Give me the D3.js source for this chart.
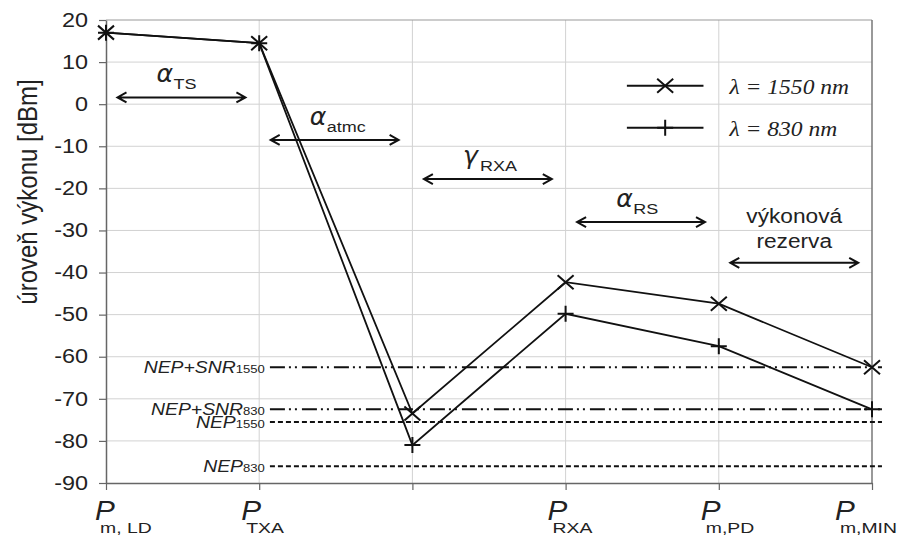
<!DOCTYPE html>
<html><head><meta charset="utf-8">
<script src="https://cdn.jsdelivr.net/npm/d3@7"></script>
<style>
html,body{margin:0;padding:0;background:#fff;}
svg{display:block;}
text{font-family:"Liberation Sans",Arial,sans-serif;fill:#222;}
</style></head>
<body>
<svg id="chart" width="898" height="536"></svg>
<script>
// ---- data ----
const categoryMain = ["P", "P", "", "P", "P", "P"];
const categorySub = ["m, LD", "TXA", "", "RXA", "m,PD", "m,MIN"];
const series1550 = [17, 14.5, -73.5, -42.3, -47.4, -62.5];
const series830 = [17, 14.5, -81, -49.8, -57.5, -72.5];
const yTicks = [20, 10, 0, -10, -20, -30, -40, -50, -60, -70, -80, -90];
const refNames = ["NEP+SNR", "NEP+SNR", "NEP", "NEP"];
const refSubs = ["1550", "830", "1550", "830"];
const refValues = [-62.5, -72.5, -75.5, -86];
const refKinds = ["dashdotdot", "dashdotdot", "dash", "dash"];
const legendLabels = ["λ = 1550 nm", "λ = 830 nm"];
const annSymbols = ["α", "α", "γ", "α", ""];
const annSubs = ["TS", "atmc", "RXA", "RS", ""];
const annLevels = [1.6, -8.5, -17.8, -28, -37.7];
const yLabel = "úroveň výkonu [dBm]";
const reserveLines = ["výkonová", "rezerva"];

// ---- layout ----
const svg = d3.select("#chart");
const X0 = 106, X1 = 872, Y0 = 20, Y1 = 483;
const SX = 1.2;
const idx = d3.range(categoryMain.length);
const x = d3.scaleLinear().domain([0, categoryMain.length - 1]).range([X0, X1]);
const y = d3.scaleLinear().domain([20, -90]).range([Y0, Y1]);

// grid
const grid = svg.append("g");
grid.selectAll("line.h").data(yTicks.filter(v => v < 20 && v > -90)).join("line")
  .attr("x1", X0).attr("x2", X1).attr("y1", d => y(d)).attr("y2", d => y(d))
  .attr("stroke", "#d2d2d2").attr("stroke-width", 1);
grid.selectAll("line.v").data(idx.slice(1, -1)).join("line")
  .attr("x1", d => x(d)).attr("x2", d => x(d)).attr("y1", Y0).attr("y2", Y1)
  .attr("stroke", "#d2d2d2").attr("stroke-width", 1);
// frame top / right
svg.append("line").attr("x1", X0).attr("x2", X1).attr("y1", Y0).attr("y2", Y0).attr("stroke", "#999").attr("stroke-width", 1.2);
svg.append("line").attr("x1", X1).attr("x2", X1).attr("y1", Y0).attr("y2", Y1).attr("stroke", "#777").attr("stroke-width", 1.5);

// y axis
const yAxis = svg.append("g").attr("transform", `translate(${X0},0)`)
  .call(d3.axisLeft(y).tickValues(yTicks).tickSize(7).tickSizeOuter(0).tickFormat(d => String(d)));
yAxis.select(".domain").attr("stroke", "#666").attr("stroke-width", 1.5);
yAxis.selectAll(".tick line").attr("stroke", "#666").attr("stroke-width", 1.2);
yAxis.selectAll(".tick text").attr("font-size", 19.5).attr("fill", "#222")
  .attr("x", -18 / SX).attr("transform", `scale(${SX},1)`)
  .style("font-family", "Liberation Sans, Arial, sans-serif");

// x axis
const xAxis = svg.append("g").attr("transform", `translate(0,${Y1})`)
  .call(d3.axisBottom(x).tickValues(idx).tickSize(7).tickSizeOuter(0).tickFormat(""));
xAxis.select(".domain").attr("stroke", "#666").attr("stroke-width", 1.5);
xAxis.selectAll(".tick line").attr("stroke", "#666").attr("stroke-width", 1.2);

// x labels
idx.forEach(i => {
  if (!categoryMain[i]) return;
  const g = svg.append("g");
  const sub = g.append("text").attr("font-size", 15.5).text(categorySub[i]);
  const subW = sub.node().getComputedTextLength() * 1.25;
  let left = Math.max(x(i) - 18, X0 - 11);
  left = Math.min(left, 897 - subW - 5);
  sub.attr("transform", `translate(${left + 5},533) scale(1.25,1)`);
  g.append("text").attr("font-size", 27).attr("font-style", "italic")
    .attr("transform", `translate(${left},520) scale(1.1,1)`).text(categoryMain[i]);
});

// y label
svg.append("text").attr("font-size", 24).attr("text-anchor", "middle")
  .attr("transform", `translate(37,192) scale(1.12,1) rotate(-90)`).text(yLabel);

// reference lines
const dashFor = k => k === "dash" ? "5,3" : "15,4,2,4,2,5";
refValues.forEach((v, i) => {
  svg.append("line").attr("x1", x(1.07)).attr("x2", x(5.065))
    .attr("y1", y(v)).attr("y2", y(v)).attr("stroke", "#111").attr("stroke-width", 2)
    .attr("stroke-dasharray", dashFor(refKinds[i]));
  const t = svg.append("text").attr("text-anchor", "end")
    .attr("transform", `translate(${x(1.07) - 5},${y(v) + 6}) scale(1.14,1)`);
  t.append("tspan").attr("font-size", 17).attr("font-style", "italic").text(refNames[i]);
  t.append("tspan").attr("font-size", 11.5).text(refSubs[i]);
});

// series
const line = d3.line().x((d, i) => x(i)).y(d => y(d));
const xMark = "M-8,-7L8,7M-8,7L8,-7";
const pMark = "M-8,0L8,0M0,-8L0,8";
[[series1550, xMark], [series830, pMark]].forEach(([s, m]) => {
  svg.append("path").datum(s).attr("d", line).attr("fill", "none")
    .attr("stroke", "#111").attr("stroke-width", 1.8);
  svg.selectAll(null).data(s).join("path")
    .attr("transform", (d, i) => `translate(${x(i)},${y(d)})`)
    .attr("d", m).attr("stroke", "#111").attr("stroke-width", 2).attr("fill", "none");
});

// legend
const legY = [y(4.4), y(-5.6)];
[xMark, pMark].forEach((m, i) => {
  svg.append("line").attr("x1", x(3.4) ).attr("x2", x(3.9)).attr("y1", legY[i]).attr("y2", legY[i])
    .attr("stroke", "#111").attr("stroke-width", 2);
  svg.append("path").attr("transform", `translate(${(x(3.4) + x(3.9)) / 2},${legY[i]})`)
    .attr("d", m).attr("stroke", "#111").attr("stroke-width", 2).attr("fill", "none");
  svg.append("text").attr("font-size", 22).attr("font-style", "italic")
    .style("font-family", "Liberation Serif, Times New Roman, serif")
    .attr("transform", `translate(${x(4.07)},${legY[i] + 8}) scale(1.07,1)`).text(legendLabels[i]);
});

// annotation arrows
function arrow(xa, xb, yy) {
  const p = `M${xa + 9},${yy - 5}L${xa},${yy}L${xa + 9},${yy + 5}M${xa},${yy}L${xb},${yy}M${xb - 9},${yy - 5}L${xb},${yy}L${xb - 9},${yy + 5}`;
  svg.append("path").attr("d", p).attr("fill", "none").attr("stroke", "#111").attr("stroke-width", 2);
}
annLevels.forEach((v, i) => {
  const xa = x(i + 0.075), xb = x(i + 0.91), yy = y(v);
  arrow(xa, xb, yy);
  if (annSymbols[i]) {
    const lx = x(i + 0.33);
    const g = svg.append("g");
    g.append("text").attr("font-size", 24).attr("font-style", "italic")
      .style("font-family", "DejaVu Sans, sans-serif")
      .attr("transform", `translate(${lx},${yy - 15}) scale(1.05,1)`).text(annSymbols[i]);
    g.append("text").attr("font-size", 15)
      .attr("transform", `translate(${lx + 17},${yy - 8}) scale(1.2,1)`).text(annSubs[i]);
  } else {
    reserveLines.forEach((s, k) => {
      svg.append("text").attr("font-size", 21).attr("text-anchor", "middle")
        .attr("transform", `translate(${(xa + xb) / 2},${yy - 40 + k * 25}) scale(1.08,1)`).text(s);
    });
  }
});
</script>
</body></html>
